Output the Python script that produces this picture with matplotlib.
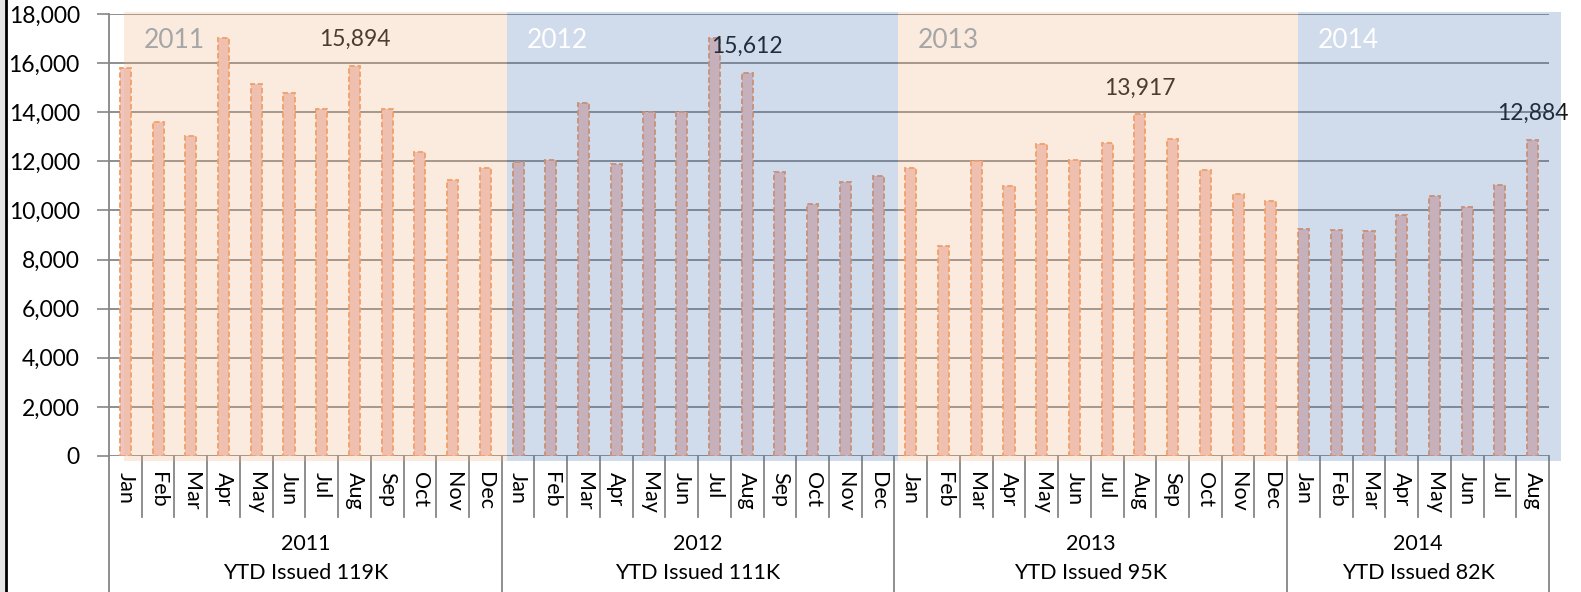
import matplotlib
matplotlib.use("Agg")
import matplotlib.pyplot as plt
import matplotlib.patches as patches
import matplotlib.transforms as mtransforms
import numpy as np

plt.rcParams["font.family"] = ["Lato", "DejaVu Sans"]

# Data
years = ["2011", "2012", "2013", "2014"]
ytd_labels = ["YTD Issued 119K", "YTD Issued 111K", "YTD Issued 95K", "YTD Issued 82K"]
months = ["Jan", "Feb", "Mar", "Apr", "May", "Jun", "Jul", "Aug", "Sep", "Oct", "Nov", "Dec"]
months_per_year = [12, 12, 12, 8]

values_2011 = [15800, 13620, 13050, 17020, 15150, 14770, 14130, 15894, 14130, 12370, 11230, 11730]
values_2012 = [11960, 12040, 14370, 11890, 14000, 14000, 17020, 15612, 11560, 10280, 11170, 11400]
values_2013 = [11730, 8540, 12010, 11000, 12690, 12050, 12750, 13917, 12920, 11640, 10680, 10400]
values_2014 = [9240, 9200, 9150, 9820, 10570, 10160, 11050, 12884]

values = values_2011 + values_2012 + values_2013 + values_2014
labels = [m for n in months_per_year for m in months[:n]]
x = np.arange(len(values))

fig = plt.figure(figsize=(15.81, 5.92), dpi=100)
W, H = 1581, 592
ax = fig.add_axes([109 / W, (H - 456) / H, (1549 - 109) / W, 442 / H])

# bars
ax.bar(x, values, width=0.34, color="#F0C4C0", edgecolor="#F29A62",
       linestyle=(0, (3, 1.5)), linewidth=1.3, zorder=3)

ax.set_xlim(-0.5, len(values) - 0.5)
ax.set_ylim(0, 18000)
ax.set_yticks(np.arange(0, 18001, 2000))
ax.set_yticklabels([f"{v:,}" for v in range(0, 18001, 2000)], fontsize=16.5)
ax.tick_params(axis="y", length=9, width=1.2, color="#868686", pad=12)
ax.set_xticks([])
ax.grid(axis="y", color="#868686", linewidth=1.3, zorder=1)
ax.set_axisbelow(True)
for s in ["top", "right", "bottom"]:
    ax.spines[s].set_visible(False)
ax.spines["left"].set_color("#868686")
ax.spines["left"].set_linewidth(1.3)

# data labels on each August
trans = mtransforms.blended_transform_factory(ax.transData, ax.transAxes)
start = 0
for n in months_per_year:
    i = start + 7
    ax.annotate(f"{values[i]:,}", (i, values[i]), xytext=(0, 19), textcoords="offset points",
                ha="center", va="center", fontsize=16.5, color="#151515", zorder=4)
    start += n

# category axis: month labels and separators
for i, lab in enumerate(labels):
    ax.text(i, -0.036, lab, transform=trans, rotation=-90, ha="center", va="top",
            fontsize=15.5, clip_on=False)
bounds = np.cumsum([0] + months_per_year)
for b in range(len(values) + 1):
    y1 = -(592 - 456) / 442 if b in bounds else -61 / 442
    ax.plot([b - 0.5, b - 0.5], [0, y1], transform=trans, color="#868686",
            linewidth=1.3, clip_on=False, zorder=1)
for k, yr in enumerate(years):
    mid = (bounds[k] + bounds[k + 1] - 1) / 2
    ax.text(mid, -0.2, yr, transform=trans, ha="center", va="center", fontsize=15.5, clip_on=False)
    ax.text(mid, -0.265, ytd_labels[k], transform=trans, ha="center", va="center",
            fontsize=15.5, clip_on=False)

# translucent year bands drawn on top
band_edges = [-0.04, 11.65, 23.6, 35.83, 43.86]
band_colors = ["#EFB37F", "#4777B3", "#EFB37F", "#4777B3"]
band_text = ["#A6A6A6", "white", "#A6A6A6", "white"]
for k, yr in enumerate(years):
    rect = patches.Rectangle((band_edges[k], -0.012), band_edges[k + 1] - band_edges[k], 1.016,
                             transform=trans, facecolor=band_colors[k], alpha=0.25,
                             edgecolor="none", clip_on=False, zorder=6)
    ax.add_patch(rect)
    ax.text(band_edges[k] + 0.6, 0.941, yr, transform=trans, ha="left", va="center",
            fontsize=19, color=band_text[k], zorder=7)

# left frame edge
fig.patches.append(patches.Rectangle((0, 0), 5 / W, 1, transform=fig.transFigure,
                                     facecolor="#E6E6E6", edgecolor="none"))
fig.lines.append(plt.Line2D([6 / W, 6 / W], [0, 1], transform=fig.transFigure,
                            color="black", linewidth=2))

fig.savefig("out.png", dpi=100)
